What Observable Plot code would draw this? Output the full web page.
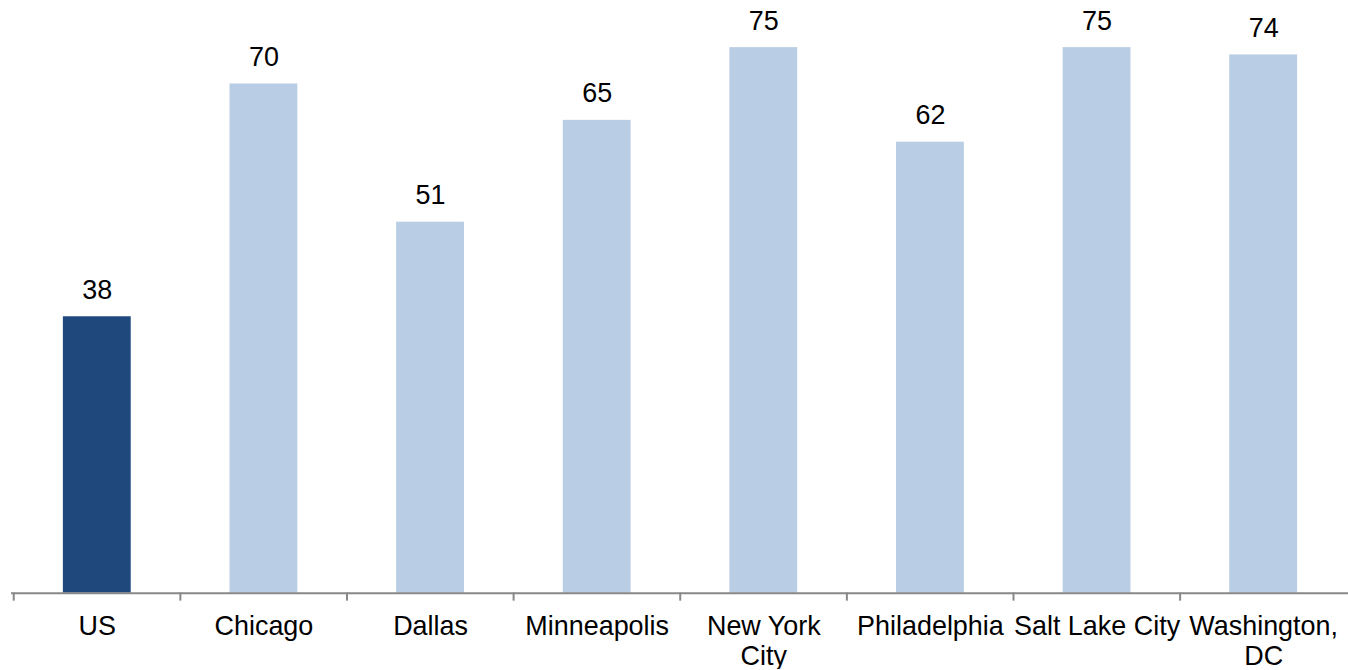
<!DOCTYPE html>
<html>
<head>
<meta charset="utf-8">
<script src="https://cdn.jsdelivr.net/npm/d3@7"></script>
<script src="https://cdn.jsdelivr.net/npm/@observablehq/plot@0.6"></script>
<style>
  html, body { margin: 0; padding: 0; background: #fff; overflow: hidden; }
  svg { display: block; }
</style>
</head>
<body>
<div id="chart"></div>
<script>
const categories = ["US", "Chicago", "Dallas", "Minneapolis", "New York City", "Philadelphia", "Salt Lake City", "Washington, DC"];
const tickLabels = ["US", "Chicago", "Dallas", "Minneapolis", "New York\nCity", "Philadelphia", "Salt Lake City", "Washington,\nDC"];
const values = [38, 70, 51, 65, 75, 62, 75, 74];
const highlight = ["US"];

const data = categories.map((c, i) => ({category: c, label: tickLabels[i], value: values[i]}));

const width = 1351, marginLeft = 11, marginRight = 0;
const bw = (width - marginLeft - marginRight) / categories.length;

const chart = Plot.plot({
  width,
  height: 670,
  marginLeft,
  marginRight,
  marginTop: 0,
  marginBottom: 76,
  style: {fontFamily: "'Liberation Sans', Arial, sans-serif", fontSize: "27px", color: "#000", background: "#fff"},
  x: {domain: categories, paddingInner: 0.594, paddingOuter: 0.297, axis: null},
  y: {domain: [0, 81.48], axis: null},
  marks: [
    Plot.barY(data, {x: "category", y: "value", fill: d => highlight.includes(d.category) ? "#1F497D" : "#B9CDE5"}),
    Plot.ruleY([0], {stroke: "#888888", strokeWidth: 2}),
    Plot.ruleX(categories, {x: d => d, y1: 0, y2: 0, insetBottom: -8, dx: -bw / 2, stroke: "#888888", strokeWidth: 2}),
    Plot.text(data, {x: "category", y: "value", text: d => String(d.value), lineAnchor: "bottom", dy: -18, fill: "#000", fontSize: 27}),
    Plot.text(data, {x: "category", y: () => 0, text: "label", lineAnchor: "top", lineHeight: 1.11, dy: 20.8, fill: "#000", fontSize: 27})
  ]
});
document.getElementById("chart").appendChild(chart);
</script>
</body>
</html>
